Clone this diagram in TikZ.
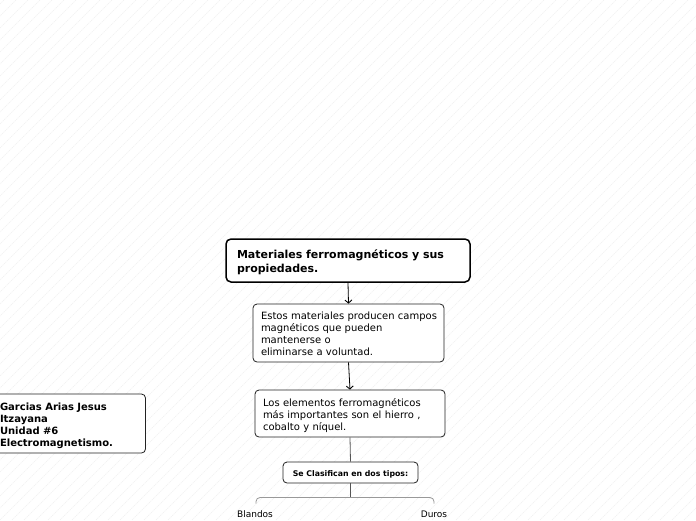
\documentclass[tikz,border=0pt]{standalone}
\usepackage{fontspec}
\setmainfont{DejaVu Sans}
\usetikzlibrary{arrows.meta}
\definecolor{bgl}{HTML}{F0F0F0}
\definecolor{boxline}{HTML}{222222}
\definecolor{connline}{HTML}{555555}
\definecolor{forkline}{HTML}{999999}
\newcommand{\topstrut}[1]{\rule{0pt}{#1}}
\begin{document}
\begin{tikzpicture}[x=1pt,y=-1pt,
  bgline/.style={draw=bgl, line width=0.6pt, dash pattern=on 1.2pt off 0.8pt},
  basebox/.style={draw=boxline, line width=0.8pt, rounded corners=4pt, fill=white, inner ysep=0pt},
  titlebox/.style={basebox, draw=black, line width=1.5pt, rounded corners=5pt},
  arrowconn/.style={draw=black, line width=0.8pt, -{Straight Barb[length=3pt,width=7pt,line width=0.9pt]}},
  plainconn/.style={draw=connline, line width=0.8pt},
  forkconn/.style={draw=forkline, line width=0.8pt, rounded corners=4pt},
  leaflabel/.style={inner sep=0pt, font=\fontsize{9}{11}\selectfont}
]
\useasboundingbox (0,0) rectangle (696,520);
\fill[white] (0,0) rectangle (696,520);
\begin{scope}
  \clip (0,0) rectangle (696,520);
  \foreach \k in {-528,-516,...,700} \draw[bgline] (\k,520) -- (\k+520,0);
\end{scope}

\node[titlebox, minimum width=244pt, minimum height=43pt, inner xsep=11pt, text width=222pt, align=left,
      font=\fontsize{11}{14}\selectfont\bfseries] (t) at (348,260.5)
  {\topstrut{12.5pt}\mbox{Materiales ferromagnéticos y sus}\\\mbox{propiedades.}};

\node[basebox, minimum width=191pt, minimum height=58pt, inner xsep=8pt, text width=175pt, align=left,
      font=\fontsize{10}{12}\selectfont] (b2) at (348.5,333)
  {\topstrut{10pt}\mbox{Estos materiales producen campos}\\\mbox{magnéticos que pueden}\\\mbox{mantenerse o}\\\mbox{eliminarse a voluntad.}};

\node[basebox, minimum width=190pt, minimum height=47pt, inner xsep=8pt, text width=174pt, align=left,
      font=\fontsize{10}{12}\selectfont] (b3) at (350,413.5)
  {\topstrut{11.5pt}\mbox{Los elementos ferromagnéticos}\\\mbox{más importantes son el hierro ,}\\\mbox{cobalto y níquel.}};

\node[basebox, minimum width=135pt, minimum height=21pt, inner xsep=4pt, align=center,
      font=\fontsize{7.8}{9}\selectfont\bfseries] (b4) at (350.5,472.5)
  {\raisebox{-2pt}[\height][\depth]{Se Clasifican en dos tipos:}};

\node[basebox, minimum width=153.5pt, minimum height=59pt, inner xsep=8pt, text width=137.5pt, align=left,
      font=\fontsize{10}{12}\selectfont\bfseries] (lb) at (68.75,423.5)
  {\topstrut{11.5pt}\mbox{Garcias Arias Jesus}\\\mbox{Itzayana}\\\mbox{Unidad \#6}\\\mbox{Electromagnetismo.}};

\node[leaflabel] (bl) at (255,514) {Blandos};
\node[leaflabel] (du) at (434,514) {Duros};

\coordinate (fork) at (350.5,497.5);
\coordinate (blend) at (256,503.5);
\coordinate (duend) at (434,503.5);

\draw[arrowconn] (t.south) -- (b2.north);
\draw[arrowconn] (b2.south) -- (b3.north);
\draw[plainconn] (b3.south) -- (b4.north);
\draw[plainconn] (b4.south) -- (fork);
\draw[forkconn] (blend) |- (fork) -| (duend);
\end{tikzpicture}
\end{document}
